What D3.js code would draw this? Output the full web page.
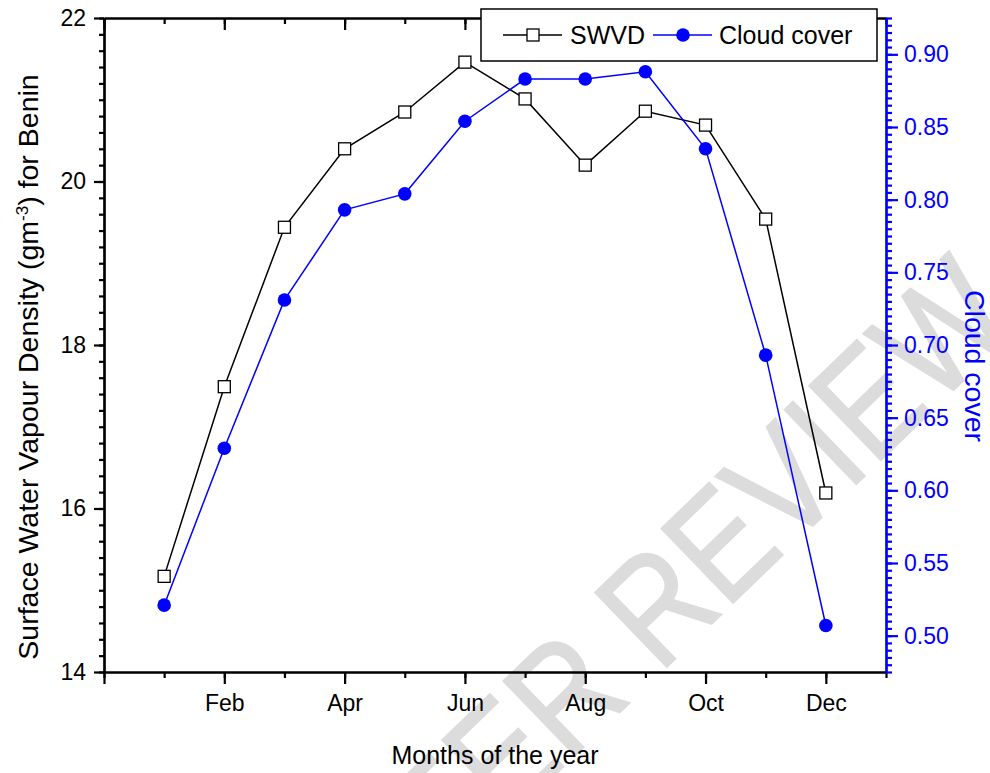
<!DOCTYPE html>
<html>
<head>
<meta charset="utf-8">
<script src="https://cdn.jsdelivr.net/npm/d3@7"></script>
<style>
    body { margin: 0; background: #fff; }
    svg { font-family: 'Liberation Sans', Arial, sans-serif; }
    .axis path, .axis line { stroke: #000; stroke-width: 2.2; }
    .axis text { font-size: 23px; fill: #000; }
    .axis.right path, .axis.right line { stroke: #00f; }
    .axis.right text { fill: #00f; }
    .title { font-size: 25px; }
    .title.rotated { font-size: 28.5px; }
    .watermark { font-size: 150px; fill: #dcdcdc; stroke: #dcdcdc; stroke-width: 2; }
</style>
</head>
<body>
<script>
'use strict';
(function () {

    // Monthly values
    const months = [1, 2, 3, 4, 5, 6, 7, 8, 9, 10, 11, 12];
    const monthNames = ['Jan', 'Feb', 'Mar', 'Apr', 'May', 'Jun', 'Jul', 'Aug', 'Sep', 'Oct', 'Nov', 'Dec'];
    const swvd = [15.17, 17.49, 19.44, 20.40, 20.85, 21.46, 21.01, 20.20, 20.86, 20.69, 19.54, 16.19];
    const cloudCover = [0.521, 0.629, 0.731, 0.793, 0.804, 0.854, 0.883, 0.883, 0.888, 0.835, 0.693, 0.507];

    const xLabelMonths = [2, 4, 6, 8, 10, 12];
    const leftTicks = [14, 16, 18, 20, 22];
    const rightTicks = [0.50, 0.55, 0.60, 0.65, 0.70, 0.75, 0.80, 0.85, 0.90];


    function getPlotArea() {
        const plot = {
            svg: { width: 990, height: 773 },
            padding: { top: 18, right: 104, bottom: 101, left: 104 }
        };
        plot.range = {
            x: plot.svg.width - plot.padding.left - plot.padding.right,
            y: plot.svg.height - plot.padding.top - plot.padding.bottom
        };
        return plot;
    }


    function makeScales(plot) {
        return {
            x: d3.scaleLinear().domain([0, 13]).range([0, plot.range.x]),
            yLeft: d3.scaleLinear().domain([14, 22]).range([plot.range.y, 0]),
            yRight: d3.scaleLinear().domain([0.475, 0.925]).range([plot.range.y, 0])
        };
    }


    /**
     * Light grey diagonal watermark, drawn first so everything sits on top of it.
     * The original lettering is narrower than Arial, hence the x squeeze.
     */
    function appendWatermark(svg) {
        svg.append('text')
            .attr('class', 'watermark')
            .attr('transform', 'translate(384,940) rotate(-44) scale(0.85,1)')
            .text('PEER REVIEW');
    }


    function appendAxes(g, plot, scales) {
        const range = d3.range;
        const minorX = range(0, 14);
        const majorX = range(0, 14, 2);

        // bottom: minor then major
        g.append('g').attr('class', 'axis').attr('transform', 'translate(0,' + plot.range.y + ')')
            .call(d3.axisBottom(scales.x).tickValues(minorX).tickSize(6).tickSizeOuter(0).tickFormat(''));
        g.append('g').attr('class', 'axis').attr('transform', 'translate(0,' + plot.range.y + ')')
            .call(d3.axisBottom(scales.x).tickValues(majorX).tickSize(12).tickSizeOuter(0).tickPadding(11)
                .tickFormat((d) => xLabelMonths.includes(d) ? monthNames[d - 1] : ''));

        // top: inward ticks, no labels
        g.append('g').attr('class', 'axis')
            .call(d3.axisBottom(scales.x).tickValues(minorX).tickSize(6).tickSizeOuter(0).tickFormat(''));
        g.append('g').attr('class', 'axis')
            .call(d3.axisBottom(scales.x).tickValues(majorX).tickSize(12).tickSizeOuter(0).tickFormat(''));

        // left
        const minorLeft = range(0, 41).map((i) => 14 + i * 0.2);
        g.append('g').attr('class', 'axis')
            .call(d3.axisLeft(scales.yLeft).tickValues(minorLeft).tickSize(5).tickSizeOuter(0).tickFormat(''));
        g.append('g').attr('class', 'axis')
            .call(d3.axisLeft(scales.yLeft).tickValues(leftTicks).tickSize(10).tickSizeOuter(0).tickPadding(8)
                .tickFormat(d3.format('d')));

        // right (cloud cover)
        const minorRight = range(0, 91).map((i) => 0.475 + i * 0.005);
        g.append('g').attr('class', 'axis right').attr('transform', 'translate(' + plot.range.x + ',0)')
            .call(d3.axisRight(scales.yRight).tickValues(minorRight).tickSize(6).tickSizeOuter(0).tickFormat(''));
        g.append('g').attr('class', 'axis right').attr('transform', 'translate(' + plot.range.x + ',0)')
            .call(d3.axisRight(scales.yRight).tickValues(rightTicks).tickSize(12).tickSizeOuter(0).tickPadding(6)
                .tickFormat(d3.format('.2f')));
        g.selectAll('.axis.right path').attr('stroke-width', 3);
    }


    function appendSeries(g, scales) {
        const swvdLine = d3.line().x((d, i) => scales.x(months[i])).y((d) => scales.yLeft(d));
        const cloudLine = d3.line().x((d, i) => scales.x(months[i])).y((d) => scales.yRight(d));

        g.append('path').datum(swvd)
            .attr('d', swvdLine).attr('fill', 'none').attr('stroke', '#000').attr('stroke-width', 1.5);
        g.selectAll('.swvd').data(swvd).enter().append('rect')
            .attr('class', 'swvd')
            .attr('x', (d, i) => scales.x(months[i]) - 6)
            .attr('y', (d) => scales.yLeft(d) - 6)
            .attr('width', 12).attr('height', 12)
            .attr('fill', '#fff').attr('stroke', '#000').attr('stroke-width', 1.3);

        g.append('path').datum(cloudCover)
            .attr('d', cloudLine).attr('fill', 'none').attr('stroke', '#00f').attr('stroke-width', 1.5);
        g.selectAll('.cloud').data(cloudCover).enter().append('circle')
            .attr('class', 'cloud')
            .attr('cx', (d, i) => scales.x(months[i]))
            .attr('cy', (d) => scales.yRight(d))
            .attr('r', 6.8)
            .attr('fill', '#00f');
    }


    function appendTitles(svg, plot) {
        svg.append('text')
            .attr('class', 'title')
            .attr('text-anchor', 'middle')
            .attr('x', plot.padding.left + plot.range.x / 2)
            .attr('y', 764)
            .text('Months of the year');

        const left = svg.append('text')
            .attr('class', 'title rotated')
            .attr('text-anchor', 'middle')
            .attr('transform', 'translate(38,367) rotate(-90)');
        left.append('tspan').text('Surface Water Vapour Density (gm');
        left.append('tspan').attr('dy', -10).style('font-size', '17px').text('-3');
        left.append('tspan').attr('dy', 10).text(') for Benin');

        svg.append('text')
            .attr('class', 'title rotated')
            .attr('text-anchor', 'middle')
            .attr('fill', '#00f')
            .attr('transform', 'translate(965,366) rotate(90)')
            .text('Cloud cover');
    }


    function appendLegend(svg) {
        const lg = svg.append('g').attr('class', 'legend');
        lg.append('rect')
            .attr('x', 481).attr('y', 9).attr('width', 396).attr('height', 52)
            .attr('fill', '#fff').attr('stroke', '#000').attr('stroke-width', 1.5);
        const cy = 35;
        lg.append('line').attr('x1', 503).attr('x2', 562).attr('y1', cy).attr('y2', cy)
            .attr('stroke', '#000').attr('stroke-width', 1.5);
        lg.append('rect').attr('x', 527).attr('y', cy - 6).attr('width', 12).attr('height', 12)
            .attr('fill', '#fff').attr('stroke', '#000').attr('stroke-width', 1.3);
        lg.append('text').attr('class', 'title').attr('x', 570).attr('y', cy + 9).text('SWVD');
        lg.append('line').attr('x1', 653).attr('x2', 712).attr('y1', cy).attr('y2', cy)
            .attr('stroke', '#00f').attr('stroke-width', 1.5);
        lg.append('circle').attr('cx', 683).attr('cy', cy).attr('r', 6.8).attr('fill', '#00f');
        lg.append('text').attr('class', 'title').attr('x', 719).attr('y', cy + 9).text('Cloud cover');
    }


    function draw() {
        const plot = getPlotArea();
        const svg = d3.select('body').append('svg')
            .attr('width', plot.svg.width)
            .attr('height', plot.svg.height);
        appendWatermark(svg);
        const g = svg.append('g')
            .attr('transform', 'translate(' + plot.padding.left + ',' + plot.padding.top + ')');
        const scales = makeScales(plot);
        appendAxes(g, plot, scales);
        appendSeries(g, scales);
        appendTitles(svg, plot);
        appendLegend(svg);
    }


    window.onload = draw;

})();
</script>
</body>
</html>
